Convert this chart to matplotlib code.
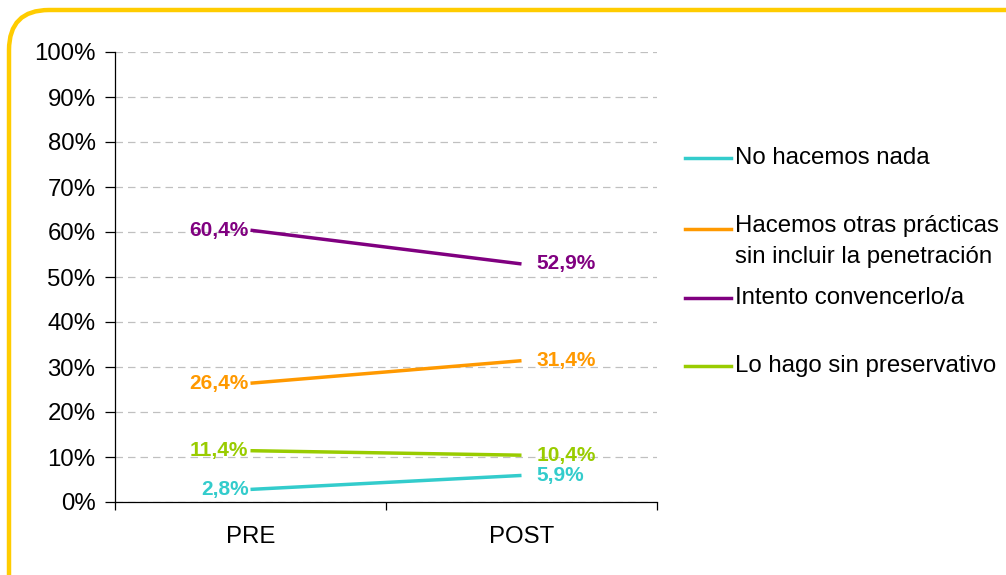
import matplotlib
matplotlib.use("Agg")
import matplotlib.pyplot as plt
from matplotlib.patches import FancyBboxPatch
from matplotlib.lines import Line2D

plt.rcParams['font.family'] = ['Liberation Sans', 'DejaVu Sans']

# ---------------- DATA ----------------
categories = ["PRE", "POST"]
series_names = ["No hacemos nada",
                "Hacemos otras prácticas\nsin incluir la penetración",
                "Intento convencerlo/a",
                "Lo hago sin preservativo"]
no_hacemos = [2.8, 5.9]
otras_practicas = [26.4, 31.4]
intento = [60.4, 52.9]
sin_preservativo = [11.4, 10.4]
colors = ["#33CCCC", "#FF9900", "#800080", "#99CC00"]
yticks = list(range(0, 101, 10))

series = [no_hacemos, otras_practicas, intento, sin_preservativo]

FS = 17.3

# ---------------- DRAWING ----------------
fig = plt.figure(figsize=(10.06, 5.75), dpi=100)
ax = fig.add_axes([115 / 1006, 1 - 502 / 575, 542 / 1006, 450 / 575])

xs = [i + 0.5 for i in range(len(categories))]
for vals, col in zip(series, colors):
    ax.plot(xs, vals, color=col, lw=2.5, solid_capstyle='butt', zorder=3)
    # PRE label on the left, POST label on the right
    ax.annotate(f"{vals[0]:.1f}%".replace(".", ","), (xs[0], vals[0]),
                xytext=(-1.5, 0), textcoords='offset points',
                ha='right', va='center', fontsize=15, fontweight='bold',
                color=col, zorder=4)
    ax.annotate(f"{vals[1]:.1f}%".replace(".", ","), (xs[1], vals[1]),
                xytext=(11, 0), textcoords='offset points',
                ha='left', va='center', fontsize=15, fontweight='bold',
                color=col, zorder=4)

ax.set_xlim(0, len(categories))
ax.set_ylim(0, 100)
ax.set_yticks(yticks)
ax.set_yticklabels([f"{t}%" for t in yticks], fontsize=FS)
ax.set_xticks(range(len(categories) + 1))
ax.set_xticklabels([])
ax.set_xticks(xs, minor=True)
ax.set_xticklabels(categories, minor=True, fontsize=FS)
ax.tick_params(axis='x', which='minor', length=0, pad=17)
ax.tick_params(axis='x', which='major', length=6, direction='out', width=0.9)
ax.tick_params(axis='y', length=7, direction='out', width=0.9, pad=7)

ax.grid(axis='y', color='#C0C0C0', linestyle=(0, (6, 4)), lw=0.9)
ax.set_axisbelow(True)
for s in ['top', 'right']:
    ax.spines[s].set_visible(False)
for s in ['left', 'bottom']:
    ax.spines[s].set_linewidth(0.9)

# legend, placed like the original (uneven spacing)
leg_y = [158, 229, 298, 366]
for name, col, y in zip(series_names, colors, leg_y):
    yf = 1 - y / 575
    fig.add_artist(Line2D([685 / 1006, 731 / 1006], [yf, yf], color=col, lw=2.5,
                          transform=fig.transFigure))
    if "\n" in name:
        # two-line entry: first line sits on the legend line
        fig.text(735 / 1006, 1 - (229 - 14) / 575, name, fontsize=FS, ha='left',
                 va='top', transform=fig.transFigure, linespacing=1.5)
    else:
        fig.text(735 / 1006, yf, name, fontsize=FS, ha='left', va='center',
                 transform=fig.transFigure)

# rounded yellow frame (runs off the right and bottom edge)
frame = FancyBboxPatch((9, -60), 1100, 625, boxstyle="round,pad=0,rounding_size=40",
                       transform=None, fill=False, edgecolor="#FFCC00", lw=3.2)
fig.patches.append(frame)

fig.savefig("out.png", dpi=100)
